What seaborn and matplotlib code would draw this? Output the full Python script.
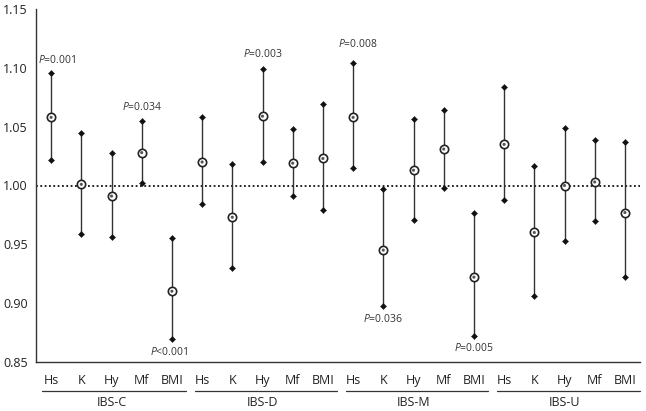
import matplotlib
matplotlib.use("Agg")
import matplotlib.pyplot as plt
import matplotlib.transforms as mtransforms
import seaborn as sns
import pandas as pd
import numpy as np

groups = ["IBS-C", "IBS-D", "IBS-M", "IBS-U"]
variables = ["Hs", "K", "Hy", "Mf", "BMI"]

center = [1.058, 1.001, 0.991, 1.028, 0.910,
          1.020, 0.973, 1.059, 1.019, 1.023,
          1.058, 0.945, 1.013, 1.031, 0.922,
          1.035, 0.960, 1.000, 1.003, 0.977]
upper = [1.096, 1.045, 1.028, 1.055, 0.955,
         1.058, 1.018, 1.099, 1.048, 1.069,
         1.104, 0.997, 1.057, 1.064, 0.977,
         1.084, 1.017, 1.049, 1.039, 1.037]
lower = [1.022, 0.959, 0.956, 1.002, 0.869,
         0.984, 0.930, 1.020, 0.991, 0.979,
         1.015, 0.897, 0.971, 0.998, 0.872,
         0.988, 0.906, 0.953, 0.970, 0.922]

# P-value annotations: (category index, text, y position)
p_idx = [0, 3, 4, 7, 10, 11, 14]
p_text = ["=0.001", "=0.034", "<0.001", "=0.003", "=0.008", "=0.036", "=0.005"]
p_y = [1.1066, 1.0667, 0.858, 1.1117, 1.1208, 0.8864, 0.8618]
p_dx = [0.2, 0.0, -0.1, 0.0, 0.15, 0.0, 0.0]

sns.set_style("white")
plt.rcParams["font.family"] = ["Open Sans", "DejaVu Sans"]
plt.rcParams["mathtext.fontset"] = "custom"
plt.rcParams["mathtext.it"] = "Open Sans:italic"
plt.rcParams["mathtext.rm"] = "Open Sans"

labels = [v for g in groups for v in variables]
df = pd.DataFrame({
    "pos": np.arange(len(labels)),
    "label": labels,
    "group": [g for g in groups for _ in variables],
    "center": center, "upper": upper, "lower": lower,
})

fig = plt.figure(figsize=(6.46, 4.11), dpi=100)
ax = fig.add_axes([36/646, 1 - 361.7/411, (640-36)/646, (361.7-9.3)/411])

lc = "#333333"
ax.vlines(df["pos"], df["lower"], df["upper"], color=lc, linewidth=1.0, zorder=2)
sns.scatterplot(data=df, x="pos", y="upper", marker="D", s=10, color="#111111",
                edgecolor="#111111", ax=ax, zorder=3, legend=False)
sns.scatterplot(data=df, x="pos", y="lower", marker="D", s=10, color="#111111",
                edgecolor="#111111", ax=ax, zorder=3, legend=False)
sns.scatterplot(data=df, x="pos", y="center", marker="o", s=36, facecolor="white",
                edgecolor="#222222", linewidth=1.2, ax=ax, zorder=4, legend=False)
sns.scatterplot(data=df, x="pos", y="center", marker="o", s=5, color="#555555",
                edgecolor="none", ax=ax, zorder=5, legend=False)

ax.axhline(1.0, color="#111111", linestyle=(0, (1.0, 1.4)), linewidth=1.3, zorder=1)

ax.set_xlim(-0.5, 19.5)
ax.set_ylim(0.85, 1.15)
ax.set_yticks([0.85, 0.90, 0.95, 1.00, 1.05, 1.10, 1.15])
ax.set_yticklabels([f"{v:.2f}" for v in [0.85, 0.90, 0.95, 1.00, 1.05, 1.10, 1.15]])
ax.set_xticks(df["pos"])
ax.set_xticklabels(df["label"])
ax.set_xlabel("")
ax.set_ylabel("")
for s in ["top", "right"]:
    ax.spines[s].set_visible(False)
for s in ["left", "bottom"]:
    ax.spines[s].set_color("#333333")
    ax.spines[s].set_linewidth(1.0)
ax.tick_params(axis="both", direction="in", length=5, width=1.0, color="#333333",
               labelsize=9, labelcolor="#222222")
ax.tick_params(axis="x", pad=9)
ax.tick_params(axis="y", pad=6)

for i, t, y, dx in zip(p_idx, p_text, p_y, p_dx):
    ax.text(i + dx, y, r"$\mathit{P}$" + t, ha="center", va="center",
            fontsize=7.5, color="#333333")

trans = mtransforms.blended_transform_factory(ax.transData, fig.transFigure)
y_line = 1 - 391/411
y_lab = 1 - 402/411
for k, g in enumerate(groups):
    x0 = 5*k - 0.25 if k > 0 else -0.3
    x1 = 5*k + 4.47 if k < 3 else 19.5
    ax.plot([x0, x1], [y_line, y_line], color="#333333", linewidth=0.9,
            transform=trans, clip_on=False)
    ax.text(5*k + 2, y_lab, g, ha="center", va="center", fontsize=9,
            color="#222222", transform=trans)

fig.savefig("out.png", dpi=100)
